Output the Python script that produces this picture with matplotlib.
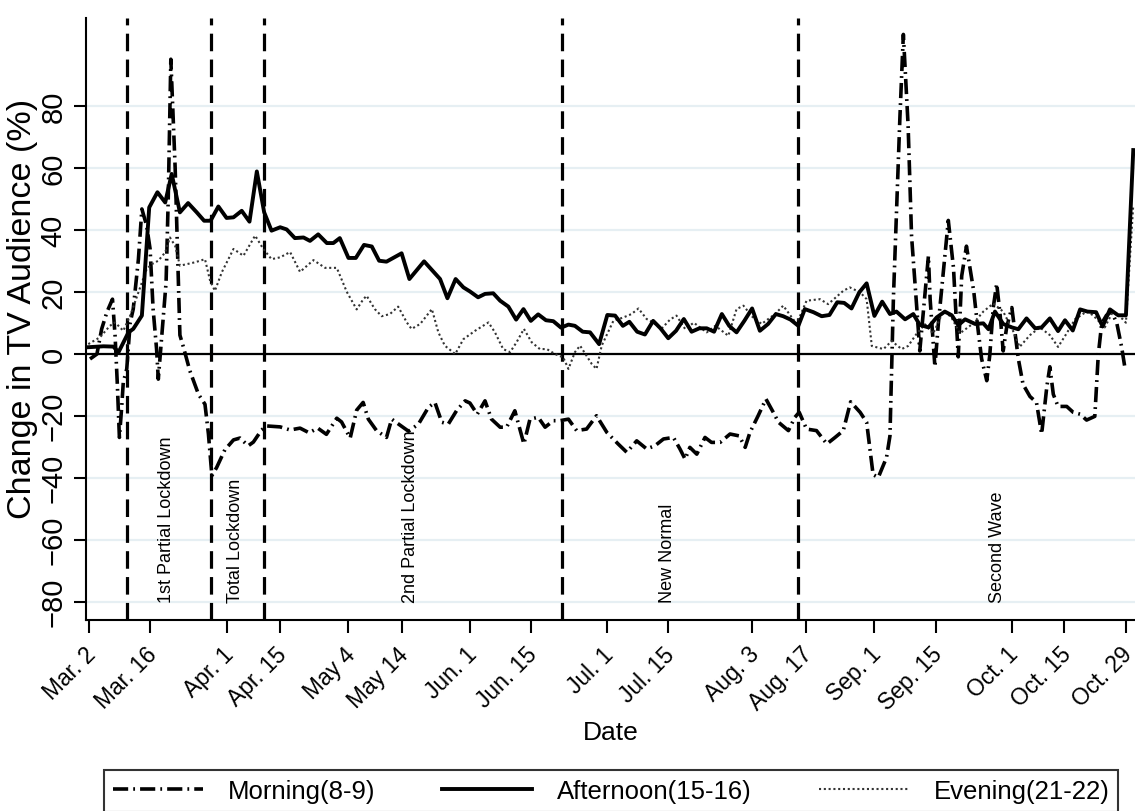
import matplotlib
matplotlib.use('Agg')
import matplotlib.pyplot as plt
import matplotlib.transforms as mtransforms
from matplotlib.lines import Line2D

plt.rcParams['font.family'] = ['Liberation Sans', 'DejaVu Sans']

# x is in days since Mar. 2 (as laid out on the original axis)
tick_pos = [0, 14.2, 31.9, 44.3, 60.1, 72.4, 88.3, 102.3, 120.0, 134.1,
            153.5, 165.9, 181.8, 196.0, 213.6, 225.7, 240.0]
tick_labels = ['Mar. 2', 'Mar. 16', 'Apr. 1', 'Apr. 15', 'May 4', 'May 14',
               'Jun. 1', 'Jun. 15', 'Jul. 1', 'Jul. 15', 'Aug. 3', 'Aug. 17',
               'Sep. 1', 'Sep. 15', 'Oct. 1', 'Oct. 15', 'Oct. 29']

phase_lines = [8.9, 28.3, 40.6, 109.5, 164.2]
phase_names = ['1st Partial Lockdown', 'Total Lockdown', '2nd Partial Lockdown',
               'New Normal', 'Second Wave']
phase_text_x = [18.1, 33.9, 74.5, 134.0, 210.3]

# (day, % change) pairs
morning = [(0.3, -1.7), (1.9, -0.1), (3.0, 8.0), (4.2, 13.4), (5.5, 17.6), (6.1, 5.8),
           (6.6, -9.2), (7.1, -27.0), (7.6, -17.8), (8.0, -9.2), (8.8, -4.9), (9.6, 10.1),
           (10.3, 14.4), (11.5, 30.5), (12.3, 46.7), (13.4, 41.3), (14.2, 33.8), (14.9, 14.4),
           (15.7, 1.5), (16.1, -8.2), (16.9, 5.8), (17.9, 23.0), (18.4, 49.9), (19.0, 95.0),
           (20.0, 60.0), (21.1, 6.0), (21.9, 2.2), (23.4, -5.5), (25.4, -13.1), (26.9, -16.3),
           (27.7, -25.9), (28.5, -39.3), (29.6, -36.7), (31.5, -31.0), (33.5, -27.8), (35.0, -27.2),
           (36.9, -29.7), (38.1, -28.5), (40.0, -24.6), (41.2, -23.3), (44.3, -23.6), (46.6, -24.6),
           (48.9, -24.0), (51.0, -25.5), (53.0, -24.0), (55.0, -26.0), (57.4, -20.8), (58.5, -22.0),
           (60.5, -27.2), (62.0, -18.2), (63.5, -15.7), (64.7, -21.1), (66.6, -24.8), (68.9, -27.0),
           (70.1, -21.1), (72.0, -23.0), (74.0, -25.0), (76.3, -22.7), (78.6, -17.3), (80.1, -15.7),
           (81.7, -22.1), (83.2, -22.7), (85.1, -18.4), (87.1, -15.2), (88.2, -15.9), (89.9, -19.5),
           (91.7, -15.2), (93.2, -21.1), (95.2, -23.7), (96.7, -23.7), (98.6, -18.4), (100.7, -29.1),
           (102.1, -21.1), (104.0, -20.5), (105.6, -23.7), (107.5, -21.6), (109.0, -21.6), (111.0, -21.1),
           (112.9, -24.8), (115.2, -24.3), (117.5, -20.0), (119.9, -25.4), (122.5, -29.1), (124.5, -31.8),
           (126.8, -28.1), (129.1, -30.7), (131.0, -29.7), (133.0, -27.5), (135.3, -27.0), (136.8, -30.7),
           (138.0, -34.0), (139.1, -30.2), (140.7, -32.4), (142.6, -27.0), (144.1, -28.6), (146.1, -28.6),
           (148.4, -25.9), (150.5, -26.5), (151.9, -30.2), (153.0, -25.4), (154.9, -20.0), (156.7, -14.6),
           (158.4, -18.9), (159.6, -22.1), (161.9, -24.8), (163.4, -20.5), (164.4, -18.9), (166.1, -24.3),
           (168.4, -24.8), (170.8, -29.1), (172.7, -27.0), (174.6, -24.8), (176.3, -15.5), (178.5, -18.9),
           (180.0, -22.1), (181.5, -39.0), (182.7, -39.9), (184.6, -33.5), (185.4, -26.5), (186.2, 18.0),
           (187.7, 76.2), (188.5, 103.0), (189.6, 73.6), (190.4, 37.9), (191.6, 14.9), (192.3, 0.9),
           (194.3, 31.5), (194.7, 17.5), (195.8, -4.2), (196.6, 9.8), (198.9, 43.0), (200.1, 27.7),
           (200.8, 9.8), (201.2, -1.0), (202.0, 25.1), (203.1, 34.7), (204.8, 20.0), (205.5, 11.1),
           (206.6, -1.6), (207.8, -8.7), (208.5, -0.4), (209.3, 14.9), (210.1, 22.6), (210.9, 12.4),
           (211.6, 0.9), (212.4, 8.5), (213.6, 14.9), (214.3, 7.3), (215.1, -1.6), (216.2, -9.9),
           (217.8, -13.8), (219.3, -15.7), (220.5, -25.9), (221.7, -10.6), (222.4, -4.2), (223.2, -13.1),
           (224.3, -17.0), (226.3, -17.0), (227.8, -18.9), (229.4, -19.5), (230.9, -21.4), (232.8, -20.2),
           (233.6, -0.4), (234.4, 9.8), (235.5, 12.4), (236.7, 13.6), (237.9, 9.8), (239.0, 2.2),
           (239.8, -4.8)]

afternoon = [(-0.1, 2.1), (3.4, 2.4), (5.7, 2.3), (6.9, 0.5), (9.2, 6.9), (10.3, 8.0),
             (12.3, 12.3), (14.0, 47.2), (15.9, 52.1), (17.7, 48.8), (19.2, 58.0), (21.1, 45.6),
             (23.0, 48.6), (25.0, 45.6), (26.7, 42.9), (28.2, 42.9), (30.0, 47.5), (31.9, 43.8),
             (33.5, 44.0), (35.4, 46.1), (37.2, 42.6), (38.9, 58.8), (40.6, 45.6), (42.3, 39.7),
             (44.3, 40.8), (45.8, 40.1), (47.7, 37.3), (49.7, 37.5), (51.2, 36.4), (53.1, 38.5),
             (55.1, 35.7), (56.6, 35.7), (58.1, 37.3), (60.1, 30.9), (61.8, 30.9), (63.7, 35.1),
             (65.5, 34.6), (67.2, 30.0), (68.9, 29.7), (72.4, 32.4), (74.2, 24.1), (77.6, 29.8),
             (81.3, 24.1), (83.0, 17.9), (84.9, 24.1), (86.7, 21.4), (88.2, 20.1), (90.1, 18.2),
             (91.7, 19.3), (93.6, 19.5), (95.2, 17.1), (97.1, 15.2), (98.9, 11.0), (100.6, 14.4),
             (102.3, 10.6), (104.0, 12.7), (105.8, 10.8), (107.5, 10.5), (109.3, 8.4), (111.0, 9.4),
             (112.5, 9.0), (114.3, 7.1), (116.0, 6.9), (118.1, 3.1), (120.0, 12.5), (121.8, 12.3),
             (123.6, 9.0), (125.1, 10.3), (126.9, 7.1), (128.7, 6.2), (130.6, 10.6), (132.3, 8.2),
             (134.1, 5.0), (135.9, 7.4), (137.7, 11.2), (139.5, 7.1), (141.3, 8.2), (143.0, 8.2),
             (144.7, 7.1), (146.5, 12.8), (148.2, 9.0), (149.9, 6.9), (151.7, 10.6), (153.5, 14.6),
             (155.3, 7.4), (157.2, 9.6), (159.0, 12.8), (160.7, 12.1), (162.4, 11.0), (164.2, 9.0),
             (165.7, 14.4), (167.7, 13.4), (169.6, 12.1), (171.4, 12.5), (173.2, 16.6), (174.8, 16.4),
             (176.5, 14.6), (178.3, 19.8), (180.0, 22.7), (181.8, 12.2), (183.6, 16.8), (185.4, 12.8),
             (186.9, 13.6), (188.9, 11.1), (190.8, 12.8), (192.3, 9.3), (194.3, 8.5), (196.2, 11.7),
             (198.1, 13.6), (199.7, 12.4), (201.2, 9.2), (202.8, 11.1), (205.1, 9.6), (207.0, 9.8),
             (208.2, 7.9), (209.7, 13.6), (211.6, 9.6), (213.6, 8.5), (215.1, 7.9), (217.0, 11.4),
             (219.0, 8.2), (220.5, 8.5), (222.4, 11.4), (224.3, 7.3), (225.9, 10.8), (227.7, 7.5),
             (229.4, 14.3), (231.1, 13.6), (233.1, 13.4), (234.6, 8.8), (236.3, 14.3), (238.2, 12.4),
             (240.0, 12.4), (241.7, 65.7)]

evening = [(-0.1, 3.1), (2.6, 5.3), (4.9, 9.0), (6.1, 10.1), (8.0, 7.4), (9.6, 12.3),
           (11.5, 19.8), (13.4, 27.3), (14.6, 28.9), (16.1, 30.0), (17.7, 32.7), (18.8, 37.5),
           (20.0, 34.8), (21.1, 28.4), (22.7, 28.9), (24.6, 29.5), (26.9, 30.5), (28.1, 23.5),
           (29.2, 20.3), (30.8, 26.3), (33.5, 33.8), (35.8, 31.6), (38.5, 38.1), (40.4, 33.8),
           (42.3, 30.5), (44.3, 31.1), (46.6, 32.8), (48.9, 26.4), (52.0, 30.2), (54.7, 27.7),
           (57.4, 27.7), (59.7, 20.0), (62.0, 14.3), (63.5, 17.5), (64.3, 18.7), (66.2, 14.4),
           (67.8, 12.1), (69.7, 12.8), (71.6, 15.2), (73.6, 10.1), (74.7, 8.0), (76.7, 9.6),
           (79.4, 14.4), (80.9, 6.9), (82.4, 2.6), (84.8, -0.1), (86.7, 4.7), (89.4, 7.4),
           (92.5, 10.1), (94.0, 6.9), (95.9, 1.5), (97.5, 0.5), (99.0, 3.7), (100.7, 8.0),
           (102.5, 3.7), (104.4, 1.5), (106.0, 1.5), (107.9, -0.1), (109.8, -1.2), (111.0, -4.9),
           (112.5, 0.5), (113.7, 2.6), (116.4, -3.3), (117.5, -4.9), (118.7, 2.6), (121.4, 10.6),
           (123.7, 11.7), (125.6, 12.8), (127.2, 14.6), (129.1, 11.2), (130.6, 10.1), (132.5, 8.0),
           (134.5, 11.0), (136.0, 12.3), (138.0, 8.0), (140.0, 10.0), (143.0, 6.9), (145.0, 9.0),
           (148.0, 5.8), (149.9, 14.4), (151.5, 15.5), (153.5, 12.0), (155.7, 9.6), (158.8, 12.8),
           (160.7, 15.5), (163.8, 9.6), (166.1, 17.1), (169.2, 17.6), (171.1, 16.0), (174.6, 20.3),
           (176.1, 21.4), (178.5, 19.8), (180.0, 17.6), (181.2, 2.5), (183.9, 1.5), (185.8, 4.1),
           (188.1, 1.5), (189.6, 2.5), (191.6, 6.5), (193.5, 9.5), (195.4, 6.5), (197.7, 13.6),
           (199.5, 12.0), (201.6, 6.6), (204.7, 9.8), (207.0, 13.6), (209.3, 16.2), (211.6, 13.6),
           (213.9, 7.3), (215.4, 2.2), (217.8, 6.0), (220.1, 8.5), (222.4, 6.0), (224.3, 2.2),
           (226.3, 6.6), (228.2, 11.1), (230.9, 13.6), (232.4, 12.4), (235.1, 8.5), (237.0, 13.6),
           (239.3, 11.1), (240.0, 10.0), (241.7, 48.0)]

series_labels = ['Morning(8-9)', 'Afternoon(15-16)', 'Evening(21-22)']

fig = plt.figure(figsize=(11.35, 8.12), dpi=100)
ax = fig.add_axes([0.0755, 0.2352, 0.9245, 0.7414])

ax.set_xlim(-0.7, 242.1)
ax.set_ylim(-85.9, 108.3)

ax.set_yticks(range(-80, 81, 20))
ax.yaxis.grid(True, color='#E6EFF3', lw=1.6)
ax.set_axisbelow(True)

for v in phase_lines:
    ax.axvline(v, color='black', lw=2.3, linestyle=(0, (5.5, 2.6)), zorder=2)
ax.axhline(0, color='black', lw=1.6, zorder=2)

for name, tx in zip(phase_names, phase_text_x):
    ax.text(tx, -80, name, rotation=90, ha='center', va='bottom', fontsize=13)

morning_style = dict(color='black', lw=2.6, linestyle=(0, (4.2, 1.4, 0.5, 1.4)))
afternoon_style = dict(color='black', lw=2.8, linestyle='-')
evening_style = dict(color='#333333', lw=1.5, linestyle=(0, (1, 1.3)))

mx, my = zip(*morning)
ax.plot(mx, my, zorder=3, **morning_style)
axx, ay = zip(*afternoon)
ax.plot(axx, ay, zorder=4, **afternoon_style)
ex, ey = zip(*evening)
ax.plot(ex, ey, zorder=3, **evening_style)

ax.spines['top'].set_visible(False)
ax.spines['right'].set_visible(False)
for s in ['left', 'bottom']:
    ax.spines[s].set_linewidth(1.5)

ax.tick_params(axis='both', length=9, width=1.5)
ax.tick_params(axis='y', labelsize=21, labelrotation=90, pad=4)
for lab in ax.get_yticklabels():
    lab.set_va('center')

ax.set_xticks(tick_pos)
ax.set_xticklabels(tick_labels, rotation=45, ha='right', va='top',
                   rotation_mode='anchor', fontsize=16.5)
ax.tick_params(axis='x', pad=7)
# nudge the slanted labels a little to the left so the last one stays inside
shift = mtransforms.ScaledTranslation(-5 / 100, 0, fig.dpi_scale_trans)
for lab in ax.get_xticklabels():
    lab.set_transform(lab.get_transform() + shift)

ax.set_xlabel('Date', fontsize=19)
ax.xaxis.set_label_coords(0.5, (621 - 733) / 602.0)
ax.xaxis.label.set_va('center')
ax.set_ylabel('Change in TV Audience (%)', fontsize=24.5)
ax.yaxis.set_label_coords(-0.045, 0.519)

handles = [Line2D([], [], **morning_style),
           Line2D([], [], **afternoon_style),
           Line2D([], [], **evening_style)]
leg = fig.legend(handles, series_labels, loc='upper left',
                 bbox_to_anchor=(104 / 1135, 1 - 771 / 812), borderaxespad=0,
                 ncol=3, fontsize=18.5, frameon=True, fancybox=False,
                 edgecolor='black', handlelength=3.5, handletextpad=0.97,
                 columnspacing=2.6, borderpad=0.35)
leg.get_frame().set_linewidth(1.5)

fig.savefig('out.png', dpi=100)
